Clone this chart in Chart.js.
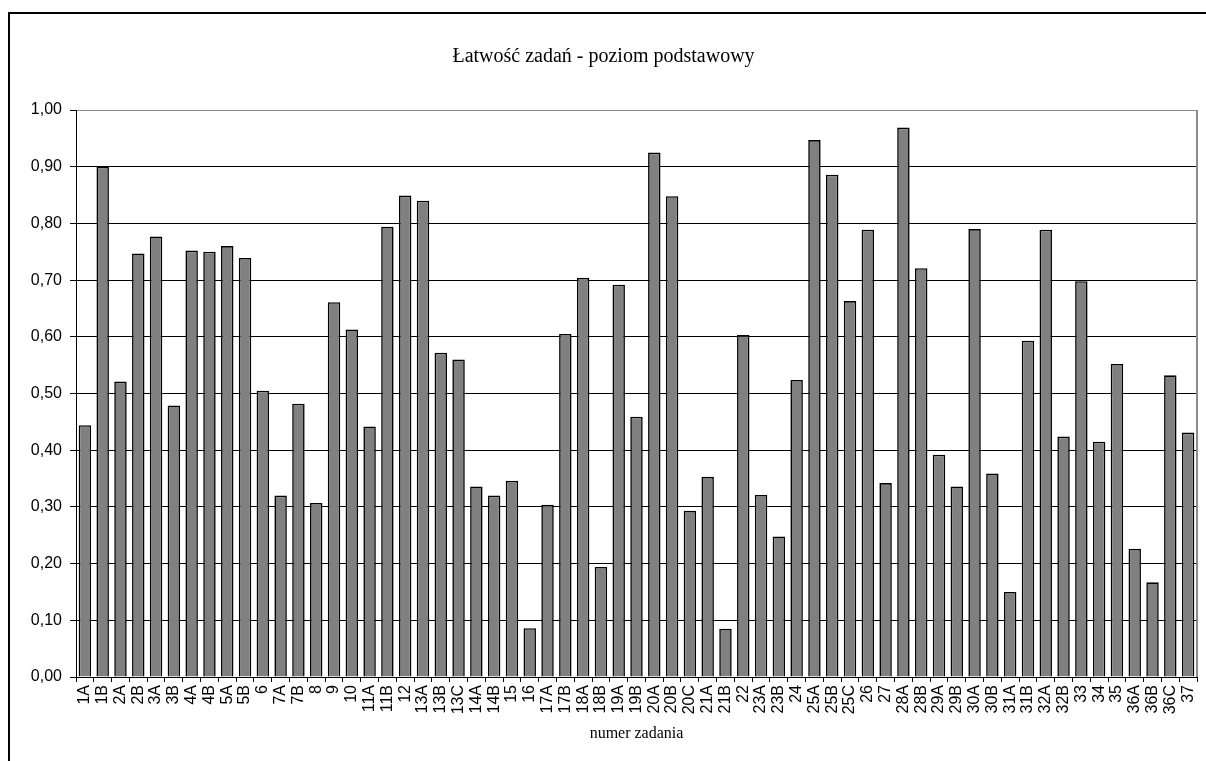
<!DOCTYPE html>
<html>
<head>
<meta charset="utf-8">
<script src="https://cdn.jsdelivr.net/npm/chart.js@4"></script>
<style>
  html,body{margin:0;padding:0;background:#fff;overflow:hidden;}
  #frame{position:absolute;left:8px;top:12px;width:1204px;height:760px;border:2px solid #000;background:#fff;}
  #frame canvas{display:block;}
</style>
</head>
<body>
<div id="frame"><canvas id="easeChart" width="1204" height="760"></canvas></div>
<script>
// ============================================================
//  ŁATWOŚĆ ZADAŃ - POZIOM PODSTAWOWY
// ============================================================
const tasks=['1A','1B','2A','2B','3A','3B','4A','4B','5A','5B','6','7A','7B','8','9','10','11A','11B','12','13A','13B','13C','14A','14B','15','16','17A','17B','18A','18B','19A','19B','20A','20B','20C','21A','21B','22','23A','23B','24','25A','25B','25C','26','27','28A','28B','29A','29B','30A','30B','31A','31B','32A','32B','33','34','35','36A','36B','36C','37'];
const ease=[0.444,0.900,0.521,0.747,0.777,0.479,0.752,0.750,0.760,0.739,0.505,0.320,0.482,0.307,0.661,0.613,0.442,0.794,0.849,0.840,0.572,0.560,0.336,0.320,0.346,0.086,0.304,0.605,0.704,0.194,0.692,0.459,0.925,0.848,0.293,0.353,0.085,0.603,0.321,0.248,0.524,0.947,0.886,0.663,0.789,0.342,0.969,0.721,0.392,0.336,0.790,0.359,0.150,0.593,0.789,0.424,0.698,0.415,0.552,0.226,0.167,0.532,0.431];
const yTicks=[0,0.1,0.2,0.3,0.4,0.5,0.6,0.7,0.8,0.9,1.0];

const sans="'Liberation Sans', Arial, sans-serif";
const serif="'Liberation Serif', 'Times New Roman', serif";

// gray frame on the right side of the plot area
const plotBorder={
  id:'plotBorder',
  afterDraw(chart){
    const {ctx,chartArea:a}=chart;
    ctx.save();
    ctx.strokeStyle='#8c8c8c';ctx.lineWidth=2;
    ctx.beginPath();ctx.moveTo(a.right,a.top);ctx.lineTo(a.right,a.bottom);ctx.stroke();
    ctx.restore();
  }
};

new Chart(document.getElementById('easeChart').getContext('2d'),{
  type:'bar',
  data:{labels:tasks,datasets:[{
    data:ease,backgroundColor:'#808080',borderColor:'#000',borderWidth:1.6,
    barPercentage:0.7,categoryPercentage:1.0,
  }]},
  plugins:[plotBorder],
  options:{
    responsive:false,animation:false,
    layout:{padding:{left:0,right:17,top:0,bottom:31}},
    plugins:{
      legend:{display:false},tooltip:{enabled:false},
      title:{display:true,text:'Łatwość zadań - poziom podstawowy',color:'#000',
        font:{family:serif,size:20,weight:'normal'},padding:{top:31,bottom:41}},
    },
    scales:{
      x:{
        grid:{display:true,drawOnChartArea:false,offset:true,color:'#000',tickLength:5},
        border:{color:'#000',width:1},
        ticks:{autoSkip:false,minRotation:90,maxRotation:90,padding:3,color:'#000',font:{family:sans,size:16}},
        title:{display:true,text:'numer zadania',color:'#000',font:{family:serif,size:16},padding:{top:0,bottom:0}},
        afterFit(s){s.height=66;s.paddingLeft=0;s.paddingRight=0;},
      },
      y:{
        min:0,max:1,
        afterBuildTicks(s){s.ticks=yTicks.map(v=>({value:v}));},
        grid:{color:c=>c.tick&&c.tick.value===1?'#8c8c8c':'#000',tickColor:'#000',tickLength:6},
        border:{color:'#000',width:1},
        ticks:{padding:8,color:'#000',font:{family:sans,size:16},callback:v=>v.toFixed(2).replace('.',',')},
        afterFit(s){s.width=66;s.paddingTop=0;s.paddingBottom=0;},
      }
    }
  }
});
</script>
</body>
</html>
